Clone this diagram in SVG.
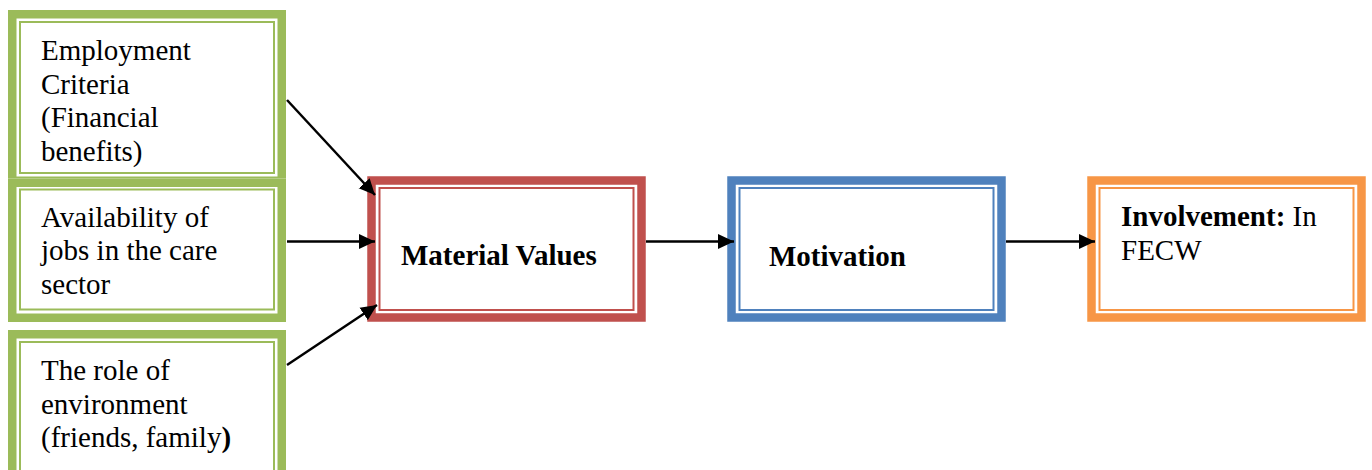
<svg xmlns="http://www.w3.org/2000/svg" width="1372" height="470" viewBox="0 0 1372 470">
  <style>
    .thick { fill: none; stroke-width: 8.5; }
    .thin { fill: none; stroke-width: 2; }
    .green { stroke: #9BBB59; }
    .red { stroke: #C0504D; }
    .blue { stroke: #4F81BD; }
    .orange { stroke: #F79646; }
    .bg { fill: #FFFFFF; stroke: none; }
    text { font-family: "Liberation Serif", "Times New Roman", serif; font-size: 29px; fill: #000000; }
    .b { font-weight: bold; }
    .conn { stroke: #000000; stroke-width: 2.5; fill: none; }
  </style>
  <defs>
    <marker id="arrow" markerUnits="userSpaceOnUse" markerWidth="17" markerHeight="16" refX="16" refY="8" orient="auto">
      <path d="M0,0.5 L16,8 L0,15.5 Z" fill="#000000"/>
    </marker>
  </defs>

  <rect width="1372" height="470" fill="#FFFFFF"/>

  <!-- Factor: Employment criteria -->
  <g id="employment">
    <rect class="bg" x="8" y="10" width="278" height="175"/>
    <rect class="thick green" x="12.25" y="14.25" width="269.5" height="166.5"/>
    <rect class="thin green" x="20" y="22" width="254" height="151"/>
    <text x="41" y="60">Employment</text>
    <text x="41" y="93.5">Criteria</text>
    <text x="41" y="127">(Financial</text>
    <text x="41" y="160.5">benefits)</text>
  </g>

  <!-- Factor: Availability of jobs -->
  <g id="availability">
    <rect class="bg" x="8" y="178.5" width="278" height="143.5"/>
    <rect class="thick green" x="12.25" y="182.75" width="269.5" height="135"/>
    <rect class="thin green" x="20" y="189.5" width="254" height="120"/>
    <text x="41" y="227">Availability of</text>
    <text x="41" y="260">jobs in the care</text>
    <text x="41" y="294">sector</text>
  </g>

  <!-- Factor: Role of environment -->
  <g id="environment">
    <rect class="bg" x="8" y="330" width="278" height="150"/>
    <rect class="thick green" x="12.25" y="334.25" width="269.5" height="150"/>
    <rect class="thin green" x="20" y="342" width="254" height="140"/>
    <text x="41" y="380">The role of</text>
    <text x="41" y="414">environment</text>
    <text x="41" y="447">(friends, family<tspan class="b">)</tspan></text>
  </g>

  <!-- Material values -->
  <g id="material">
    <rect class="bg" x="367" y="176" width="279" height="146"/>
    <rect class="thick red" x="371.5" y="180.5" width="270" height="137"/>
    <rect class="thin red" x="379.5" y="188" width="254" height="122"/>
    <text class="b" x="401" y="265">Material Values</text>
  </g>

  <!-- Motivation -->
  <g id="motivation">
    <rect class="bg" x="727" y="176" width="279" height="146"/>
    <rect class="thick blue" x="731.5" y="180.5" width="270" height="137"/>
    <rect class="thin blue" x="739.5" y="188" width="254" height="122"/>
    <text class="b" x="769" y="266">Motivation</text>
  </g>

  <!-- Involvement -->
  <g id="involvement">
    <rect class="bg" x="1087" y="176" width="279" height="146"/>
    <rect class="thick orange" x="1091.5" y="180.5" width="270" height="137"/>
    <rect class="thin orange" x="1099.5" y="188" width="254" height="122"/>
    <text x="1121" y="226"><tspan class="b">Involvement:</tspan> In</text>
    <text x="1121" y="260">FECW</text>
  </g>

  <!-- Connectors -->
  <g id="connectors">
    <line class="conn" x1="287" y1="100" x2="375" y2="195" marker-end="url(#arrow)"/>
    <line class="conn" x1="287" y1="241.5" x2="375" y2="241.5" marker-end="url(#arrow)"/>
    <line class="conn" x1="287" y1="365" x2="377" y2="305" marker-end="url(#arrow)"/>
    <line class="conn" x1="646" y1="241.5" x2="734" y2="241.5" marker-end="url(#arrow)"/>
    <line class="conn" x1="1006" y1="241.5" x2="1095" y2="241.5" marker-end="url(#arrow)"/>
  </g>
</svg>
